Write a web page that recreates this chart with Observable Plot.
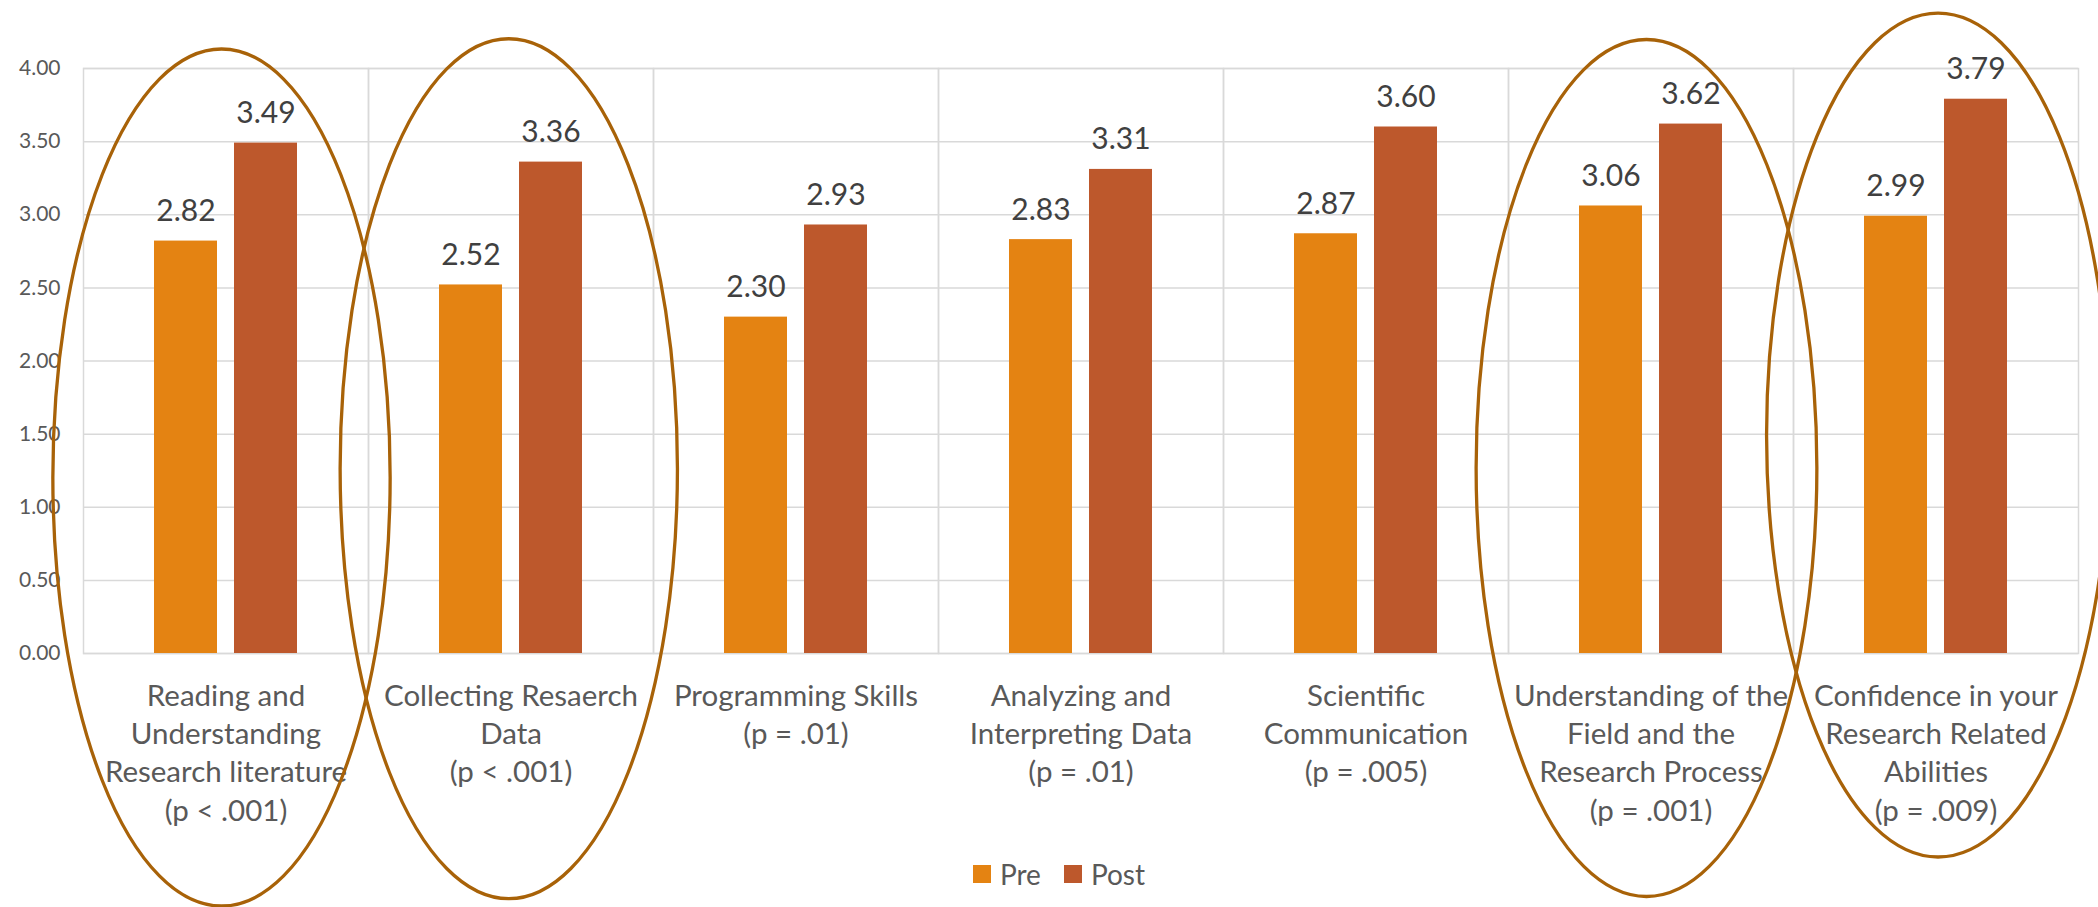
<!DOCTYPE html>
<html>
<head>
<meta charset="utf-8">
<script src="https://cdn.jsdelivr.net/npm/d3@7"></script>
<script src="https://cdn.jsdelivr.net/npm/@observablehq/plot@0.6"></script>
<style>
  body { margin: 0; background: #fff; font-family: Lato, "Open Sans", sans-serif; }
  #chart { position: relative; width: 2098px; height: 907px; overflow: hidden; }
  #chart > svg.plot { position: absolute; left: 0; top: 0; }
  #rings { position: absolute; left: 0; top: 0; pointer-events: none; }
  #legend { position: absolute; left: 0; top: 857px; width: 2098px; box-sizing: border-box; padding-left: 20px;
            display: flex; justify-content: center; align-items: center; gap: 23px;
            font-size: 28px; color: #595959; }
  #legend .item { display: flex; align-items: center; gap: 9px; }
  #legend .swatch { width: 18px; height: 18px; }
</style>
</head>
<body>
<div id="chart"></div>
<script>
// Skill areas (category axis), with the p-value shown under each label
const categories = [
  "Reading and\nUnderstanding\nResearch literature",
  "Collecting Resaerch\nData",
  "Programming Skills",
  "Analyzing and\nInterpreting Data",
  "Scientific\nCommunication",
  "Understanding of the\nField and the\nResearch Process",
  "Confidence in your\nResearch Related\nAbilities"
];
const pValues = ["p < .001", "p < .001", "p = .01", "p = .01", "p = .005", "p = .001", "p = .009"];

// Mean self-ratings before and after
const series = ["Pre", "Post"];
const preValues  = [2.82, 2.52, 2.30, 2.83, 2.87, 3.06, 2.99];
const postValues = [3.49, 3.36, 2.93, 3.31, 3.60, 3.62, 3.79];
const seriesColors = ["#E48312", "#BD582C"];

const yTicks = [0, 0.5, 1, 1.5, 2, 2.5, 3, 3.5, 4];

// Significant areas circled on the chart
const circled = [
  {category: categories[0], cy: 1.20, ry: 2.93, rx: 0.59, shift: -0.005},
  {category: categories[1], cy: 1.26, ry: 2.94, rx: 0.59, shift: 0.0},
  {category: categories[5], cy: 1.265, ry: 2.93, rx: 0.596, shift: -0.02},
  {category: categories[6], cy: 1.49, ry: 2.885, rx: 0.60, shift: 0.0}
];

const rows = categories.flatMap((c, i) => [
  {category: c, series: "Pre", value: preValues[i]},
  {category: c, series: "Post", value: postValues[i]}
]);

const gridColor = "#d9d9d9";

const plot = Plot.plot({
  width: 2098,
  height: 845,
  marginLeft: 80,
  marginRight: 17,
  marginTop: 68,
  marginBottom: 192,
  style: {fontFamily: "Lato, 'Open Sans', sans-serif", background: "transparent", overflow: "visible"},
  fx: {domain: categories, padding: 0, label: null},
  x: {domain: series, paddingInner: 0.21, paddingOuter: 0.87, axis: null},
  y: {domain: [0, 4], label: null},
  color: {domain: series, range: seriesColors},
  marks: [
    Plot.gridY(yTicks, {stroke: gridColor, strokeOpacity: 1, strokeWidth: 1.5}),
    Plot.frame({stroke: gridColor, strokeWidth: 1.5}),
    Plot.barY(rows, {fx: "category", x: "series", y: "value", fill: "series"}),
    Plot.text(rows, {
      fx: "category", x: "series", y: "value",
      text: d => d.value.toFixed(2),
      lineAnchor: "bottom", dy: -20, fontSize: 30, fill: "#404040"
    }),
    Plot.axisY(yTicks, {
      tickFormat: d => d.toFixed(2), tickSize: 0, tickPadding: 23,
      fontSize: 21, fill: "#595959", label: null
    }),
    Plot.axisFx({
      anchor: "bottom",
      tickFormat: c => c + "\n(" + pValues[categories.indexOf(c)] + ")",
      tickSize: 0, tickPadding: 25, fontSize: 29.5, lineHeight: 1.3,
      fill: "#595959", label: null
    })
  ]
});

const chart = document.getElementById("chart");
chart.appendChild(plot);

// Ellipse outlines around the significant categories, placed with the plot's own scales
const fx = plot.scale("fx");
const ys = plot.scale("y");
const band = d3.scaleBand().domain(fx.domain).range(fx.range)
  .paddingInner(fx.paddingInner ?? fx.padding ?? 0)
  .paddingOuter(fx.paddingOuter ?? fx.padding ?? 0)
  .align(fx.align ?? 0.5);
const y = d3.scaleLinear().domain(ys.domain).range(ys.range);

const rings = d3.select(chart).append("svg")
  .attr("id", "rings").attr("width", 2098).attr("height", 907);
rings.selectAll("ellipse").data(circled).join("ellipse")
  .attr("cx", d => band(d.category) + band.bandwidth() * (0.5 + d.shift))
  .attr("cy", d => y(d.cy))
  .attr("rx", d => band.bandwidth() * d.rx)
  .attr("ry", d => Math.abs(y(0) - y(d.ry)))
  .attr("fill", "none")
  .attr("stroke", "#A86208")
  .attr("stroke-width", 3.3);

// Legend below the chart
const legend = d3.select(chart).append("div").attr("id", "legend");
const items = legend.selectAll(".item").data(series).join("div").attr("class", "item");
items.append("div").attr("class", "swatch").style("background", (d, i) => seriesColors[i]);
items.append("span").text(d => d);
</script>
</body>
</html>
